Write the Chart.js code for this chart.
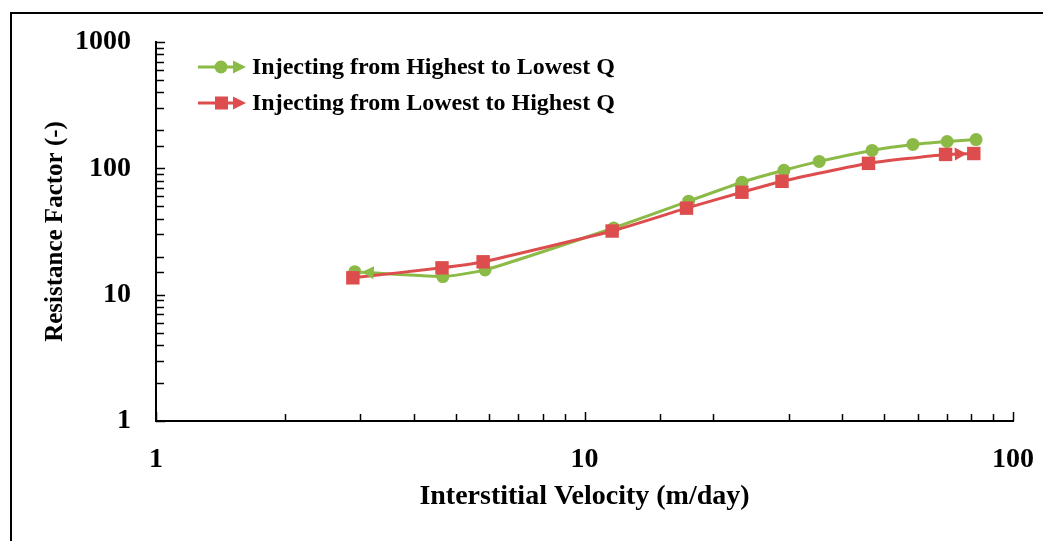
<!DOCTYPE html>
<html>
<head>
<meta charset="utf-8">
<script src="https://cdn.jsdelivr.net/npm/chart.js@4/dist/chart.umd.min.js"></script>
<style>
  body { margin: 0; background: #fff; }
  #wrap { position: relative; width: 1043px; height: 541px; overflow: hidden; }
  #frame { position: absolute; left: 10px; top: 12px; width: 1100px; height: 600px; border: 2px solid #000; }
  canvas { position: absolute; left: 0; top: 0; }
</style>
</head>
<body>
<div id="wrap">
  <div id="frame"></div>
  <canvas id="rf-canvas" width="1043" height="541"></canvas>
</div>
<script>
// series 1: highest -> lowest Q
let highLowX = [82, 70.2, 58.4, 46.9, 35.3, 29.2, 23.3, 17.5, 11.7, 5.86, 4.67, 2.91];
let highLowY = [169, 163, 154.5, 138.6, 113.5, 96.5, 77.6, 55, 33.7, 15.7, 13.9, 15.2];
// series 2: lowest -> highest Q
let lowHighX = [2.88, 4.65, 5.8, 11.6, 17.3, 23.3, 28.9, 46, 69.6, 81];
let lowHighY = [13.6, 16.3, 18.2, 31.9, 48.4, 64.7, 79, 109.5, 128.9, 131];

let seriesNames = ['Injecting from Highest to Lowest Q', 'Injecting from Lowest to Highest Q'];
let xTitle = 'Interstitial Velocity (m/day)';
let yTitle = 'Resistance Factor (-)';

const GREEN = '#8bba47';
const RED = '#de4d4d';
const SERIF = '"Liberation Serif", "Times New Roman", serif';

function toPoints(xs, ys) {
  return xs.map((x, i) => ({x: x, y: ys[i]}));
}

function isDecade(v) {
  let l = Math.log10(v);
  return Math.abs(l - Math.round(l)) < 1e-9;
}

function arrowHead(ctx, tipX, tipY, dx, dy, len, half, color) {
  ctx.save();
  ctx.fillStyle = color;
  ctx.beginPath();
  ctx.moveTo(tipX, tipY);
  ctx.lineTo(tipX - dx * len - dy * half, tipY - dy * len + dx * half);
  ctx.lineTo(tipX - dx * len + dy * half, tipY - dy * len - dx * half);
  ctx.closePath();
  ctx.fill();
  ctx.restore();
}

// arrow at the end of each line, inner tick marks, legend inside plot
const extras = {
  id: 'extras',
  afterDatasetsDraw(chart) {
    const ctx = chart.ctx;
    chart.data.datasets.forEach((ds, i) => {
      const pts = chart.getDatasetMeta(i).data;
      const a = pts[pts.length - 2], b = pts[pts.length - 1];
      let dx = b.x - a.x, dy = b.y - a.y;
      const d = Math.hypot(dx, dy);
      dx /= d; dy /= d;
      arrowHead(ctx, b.x - dx * 7, b.y - dy * 7, dx, dy, 12, 6.5, ds.borderColor);
    });
  },
  afterDraw(chart) {
    const ctx = chart.ctx;
    const xs = chart.scales.x, ys = chart.scales.y;
    const area = chart.chartArea;
    ctx.save();
    ctx.strokeStyle = '#000';
    ctx.lineWidth = 1.5;
    ys.ticks.forEach(t => {
      const p = Math.round(ys.getPixelForValue(t.value)) + 0.5;
      const len = isDecade(t.value) ? 9 : 8;
      ctx.beginPath();
      ctx.moveTo(area.left, p);
      ctx.lineTo(area.left + len, p);
      ctx.stroke();
    });
    xs.ticks.forEach(t => {
      const p = Math.round(xs.getPixelForValue(t.value)) + 0.5;
      const len = isDecade(t.value) ? 9 : 7;
      ctx.beginPath();
      ctx.moveTo(p, area.bottom);
      ctx.lineTo(p, area.bottom - len);
      ctx.stroke();
    });

    // legend
    const lx = area.left + 42, ly = area.top + 25;
    chart.data.datasets.forEach((ds, i) => {
      const y = ly + i * 36;
      ctx.strokeStyle = ds.borderColor;
      ctx.fillStyle = ds.borderColor;
      ctx.lineWidth = 3;
      ctx.beginPath();
      ctx.moveTo(lx, y);
      ctx.lineTo(lx + 36, y);
      ctx.stroke();
      if (ds.pointStyle === 'circle') {
        ctx.beginPath();
        ctx.arc(lx + 23, y, 6.5, 0, Math.PI * 2);
        ctx.fill();
      } else {
        ctx.fillRect(lx + 17, y - 6.5, 13, 13);
      }
      arrowHead(ctx, lx + 48, y, 1, 0, 13, 6.5, ds.borderColor);
      ctx.fillStyle = '#000';
      ctx.font = 'bold 24px ' + SERIF;
      ctx.textBaseline = 'middle';
      ctx.textAlign = 'left';
      ctx.fillText(ds.label, lx + 54, y + 1);
    });
    ctx.restore();
  }
};

const ctx = document.getElementById('rf-canvas').getContext('2d');
window.rfChart = new Chart(ctx, {
  type: 'line',
  data: {
    datasets: [
      {
        label: seriesNames[0],
        data: toPoints(highLowX, highLowY),
        borderColor: GREEN,
        backgroundColor: GREEN,
        borderWidth: 3,
        pointStyle: 'circle',
        pointRadius: 6.5,
        pointBorderWidth: 0,
        tension: 0.15,
        order: 1
      },
      {
        label: seriesNames[1],
        data: toPoints(lowHighX, lowHighY),
        borderColor: RED,
        backgroundColor: RED,
        borderWidth: 3,
        pointStyle: 'rect',
        pointRadius: 9.5,
        pointBorderWidth: 0,
        tension: 0.15,
        order: 0
      }
    ]
  },
  options: {
    responsive: false,
    animation: false,
    layout: { padding: { left: 0, top: 42, right: 30, bottom: 0 } },
    plugins: {
      legend: { display: false },
      tooltip: { enabled: false }
    },
    scales: {
      x: {
        type: 'logarithmic',
        min: 1,
        max: 100,
        afterFit: (s) => { s.height = 120; s.paddingLeft = 0; s.paddingRight = 0; },
        grid: { display: false, drawTicks: false },
        border: { display: true, color: '#000', width: 2 },
        ticks: {
          autoSkip: false,
          maxRotation: 0,
          padding: 22,
          color: '#000',
          font: { family: SERIF, size: 28, weight: 'bold' },
          callback: (v) => isDecade(v) ? String(Math.round(v)) : ''
        },
        title: {
          display: true,
          text: xTitle,
          color: '#000',
          font: { family: SERIF, size: 28, weight: 'bold' },
          padding: { top: 4, bottom: 27 }
        }
      },
      y: {
        type: 'logarithmic',
        min: 1,
        max: 1000,
        afterFit: (s) => { s.width = 156; s.paddingTop = 0; s.paddingBottom = 0; },
        grid: { display: false, drawTicks: false },
        border: { display: true, color: '#000', width: 2 },
        ticks: {
          autoSkip: false,
          padding: 25,
          color: '#000',
          font: { family: SERIF, size: 28, weight: 'bold' },
          callback: (v) => isDecade(v) ? String(Math.round(v)) : ''
        },
        title: {
          display: true,
          text: yTitle,
          color: '#000',
          font: { family: SERIF, size: 25, weight: 'bold' },
          padding: { top: 41, bottom: 4 }
        }
      }
    }
  },
  plugins: [extras]
});
</script>
</body>
</html>
